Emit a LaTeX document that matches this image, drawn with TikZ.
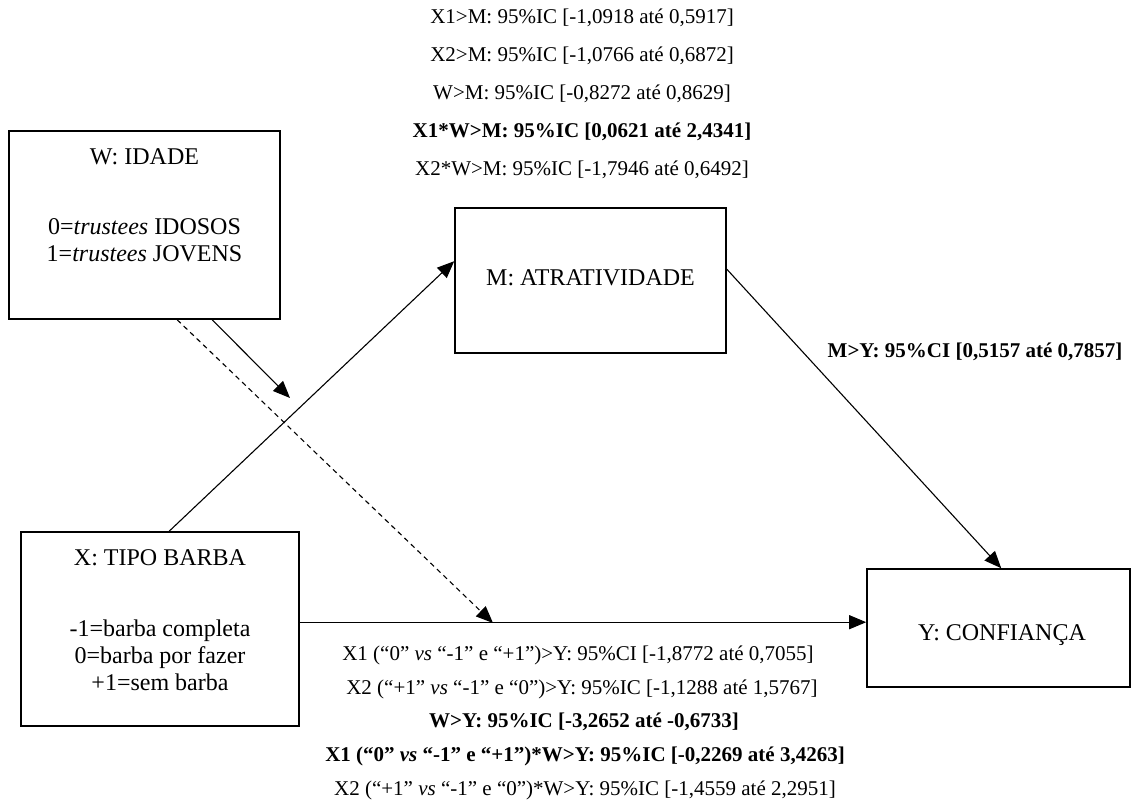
\documentclass[tikz,border=0pt]{standalone}
\usepackage{fontspec}
\setmainfont{Liberation Serif}
\usetikzlibrary{arrows.meta,calc}
\begin{document}
\begin{tikzpicture}[x=1pt,y=-1pt,
  box/.style={draw,line width=1.6pt,inner sep=0pt,rectangle},
  boxtext/.style={font=\fontsize{24}{27}\selectfont,align=center,inner sep=0pt},
  lbl/.style={font=\fontsize{21}{24}\selectfont,inner sep=0pt,anchor=center},
  conn/.style={line width=1.1pt,-{Triangle[length=17pt,width=14pt]}},
  dconn/.style={line width=1.1pt,dash pattern=on 5pt off 4pt,-{Triangle[length=17pt,width=14pt]}}]
\useasboundingbox (0,0) rectangle (1132,810);
\fill[white] (0,0) rectangle (1132,810);
% boxes
\node[box,minimum width=271pt,minimum height=188pt] (W) at (144.5,225) {};
\node[box,minimum width=278pt,minimum height=194pt] (X) at (160,629) {};
\node[box,minimum width=271pt,minimum height=145pt] (M) at (590.5,280.5) {};
\node[box,minimum width=263pt,minimum height=118pt] (Y) at (998.5,628) {};
% box texts
\node[boxtext] (wt1) at (144.5,157) {W: IDADE};
\node[boxtext] (wt2) at (144.5,240) {0=\textit{trustees} IDOSOS\\1=\textit{trustees} JOVENS};
\node[boxtext] (xt1) at (160,558) {X: TIPO BARBA};
\node[boxtext] (xt2) at (160,655) {-1=barba completa\\0=barba por fazer\\+1=sem barba};
\node[boxtext] (mt) at (590.5,278) {M: ATRATIVIDADE};
\node[boxtext] (yt) at (1002,635) {Y: CONFIANÇA};
% coordinates for free ends
\coordinate (wtip) at (290,398);
\coordinate (dtip) at (493,623);
% connectors
\draw[conn] ($(X.north west)+(149,0)$) -- ($(M.north west)+(0,54)$);
\draw[conn] ($(W.south west)+(204,0)$) -- (wtip);
\draw[dconn] ($(W.south west)+(169,0)$) -- (dtip);
\draw[conn] ($(X.north west)+(278,91)$) -- ($(Y.north west)+(0,54)$);
\draw[conn] ($(M.north east)+(0,62)$) -- ($(Y.north west)+(135,0)$);
% labels top
\node[lbl] (t1) at (582,18) {X1>M: 95\%IC [-1,0918 até 0,5917]};
\node[lbl] (t2) at (582,56) {X2>M: 95\%IC [-1,0766 até 0,6872]};
\node[lbl] (t3) at (582,94) {W>M: 95\%IC [-0,8272 até 0,8629]};
\node[lbl,font=\fontsize{21}{24}\selectfont\bfseries] (t4) at (582,132) {X1*W>M: 95\%IC [0,0621 até 2,4341]};
\node[lbl] (t5) at (582,170) {X2*W>M: 95\%IC [-1,7946 até 0,6492]};
% M>Y label
\node[lbl,font=\fontsize{21}{24}\selectfont\bfseries] (my) at (975,352) {M>Y: 95\%CI [0,5157 até 0,7857]};
% labels bottom
\node[lbl] (b1) at (578,655) {X1 (“0” \textit{vs} “-1” e “+1”)>Y: 95\%CI [-1,8772 até 0,7055]};
\node[lbl] (b2) at (582,689) {X2 (“+1” \textit{vs} “-1” e “0”)>Y: 95\%IC [-1,1288 até 1,5767]};
\node[lbl,font=\fontsize{21}{24}\selectfont\bfseries] (b3) at (584,722) {W>Y: 95\%IC [-3,2652 até -0,6733]};
\node[lbl,font=\fontsize{21}{24}\selectfont\bfseries] (b4) at (585,756) {X1 (“0” \textit{vs} “-1” e “+1”)*W>Y: 95\%IC [-0,2269 até 3,4263]};
\node[lbl] (b5) at (585,790) {X2 (“+1” \textit{vs} “-1” e “0”)*W>Y: 95\%IC [-1,4559 até 2,2951]};
\end{tikzpicture}
\end{document}
